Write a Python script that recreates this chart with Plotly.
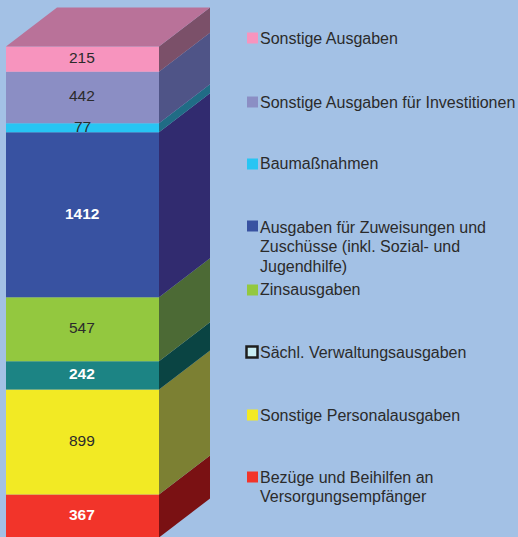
import plotly.graph_objects as go

# stacked bottom to top
categories = ["Bezüge und Beihilfen an<br>Versorgungsempfänger", "Sonstige Personalausgaben",
              "Sächl. Verwaltungsausgaben", "Zinsausgaben",
              "Ausgaben für Zuweisungen und<br>Zuschüsse (inkl. Sozial- und<br>Jugendhilfe)",
              "Baumaßnahmen", "Sonstige Ausgaben für Investitionen", "Sonstige Ausgaben"]
values = [367, 899, 242, 547, 1412, 77, 442, 215]
front_colors = ["#F2342A", "#F2EA24", "#1C8484", "#93C83F", "#3852A1", "#27C5F3", "#8B8EC4", "#F794BE"]
side_colors = ["#7A1113", "#7C8033", "#0A4443", "#4C6A35", "#312B6F", "#206C85", "#4F5487", "#7B5069"]
top_color = "#B97299"
label_bold = [True, False, True, False, True, False, False, False]
legend_y_px = [477, 415, 352, 290, 226, 164, 102, 38]
legend_text_y_px = [477, 415, 352, 289, 227, 163.5, 102, 38]

W, H = 518, 537
BG = "#A3C1E5"
TXT = "#2B2B2B"
FONT = "Liberation Sans, Arial, sans-serif"
LINE_PITCH = 19.6
px_per_unit = 491 / sum(values)
shift_units = 0.5 / px_per_unit
bar_left, bar_w = 6, 153
dx, dy_units = 51, 39 / px_per_unit

fig = go.Figure()
cum = 0
for name, v, fc, sc, bold in zip(categories, values, front_colors, side_colors, label_bold):
    fig.add_trace(go.Scatter(
        x=[bar_left + bar_w, bar_left + bar_w + dx, bar_left + bar_w + dx, bar_left + bar_w, bar_left + bar_w],
        y=[cum, cum + dy_units, cum + v + dy_units, cum + v, cum],
        mode="lines", fill="toself", fillcolor=sc, line=dict(width=0), hoverinfo="skip"))
    fig.add_trace(go.Bar(
        x=[bar_left + bar_w / 2], y=[v], base=[cum], width=[bar_w], marker=dict(color=fc, line_width=0),
        name=name.replace("<br>", " ")))
    cum += v

fig.add_trace(go.Scatter(
    x=[bar_left, bar_left + dx, bar_left + bar_w + dx, bar_left + bar_w, bar_left],
    y=[cum, cum + dy_units, cum + dy_units, cum, cum],
    mode="lines", fill="toself", fillcolor=top_color, line=dict(width=0), hoverinfo="skip"))

cum = 0
for v, bold in zip(values, label_bold):
    fig.add_annotation(x=bar_left + bar_w / 2 - 0.5, y=cum + v / 2, yshift=1.5, showarrow=False,
                       text=f"<b>{v}</b>" if bold else str(v), xanchor="center", yanchor="middle",
                       font=dict(family=FONT, size=15.5, color="white" if bold else TXT))
    cum += v

for name, my, ty, fc in zip(categories, legend_y_px, legend_text_y_px, front_colors):
    sach = name.startswith("Sächl")
    fig.add_shape(type="rect", xref="paper", yref="paper", layer="above",
                  x0=(246.5 if sach else 247) / W, x1=(257.5 if sach else 258) / W,
                  y0=1 - (my + 5.5) / H, y1=1 - (my - 5.5) / H,
                  fillcolor="#C8ECF2" if sach else fc,
                  line=dict(color="#1E1E1E", width=2.5) if sach else dict(width=0))
    for i, line in enumerate(name.split("<br>")):
        fig.add_annotation(text=line, xref="paper", yref="paper", x=258 / W, y=1 - (ty + i * LINE_PITCH) / H,
                           xanchor="left", yanchor="middle", align="left", showarrow=False,
                           font=dict(family=FONT, size=16, color=TXT))

fig.update_layout(
    width=W, height=H, margin=dict(l=0, r=0, t=0, b=0), autosize=False,
    paper_bgcolor=BG, plot_bgcolor=BG, showlegend=False, barmode="overlay",
    xaxis=dict(range=[0, W], visible=False, fixedrange=True),
    yaxis=dict(range=[shift_units, H / px_per_unit + shift_units], visible=False, fixedrange=True),
)
fig.write_html("out.html", config=dict(displayModeBar=False),
               post_script="document.documentElement.style.margin='0';document.body.style.margin='0';document.body.style.overflow='hidden';document.body.style.background='#A3C1E5';")
